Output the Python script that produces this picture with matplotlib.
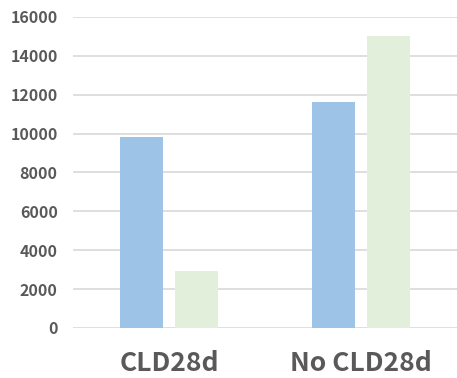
import matplotlib
matplotlib.use("Agg")
import matplotlib.pyplot as plt
import numpy as np

categories = ['CLD28d', 'No CLD28d']
series_a = [9850, 11620]
series_b = [2930, 15000]
yticks = [0, 2000, 4000, 6000, 8000, 10000, 12000, 14000, 16000]

plt.rcParams['font.family'] = ['Noto Sans CJK JP', 'DejaVu Sans']

fig = plt.figure(figsize=(4.57, 3.78), dpi=100)
ax = fig.add_axes([73/457, 50/378, 384/457, 311/378])

x = np.arange(len(categories))
w = 0.224
ax.bar(x - 0.143, series_a, w, color='#9DC3E6', zorder=3)
ax.bar(x + 0.143, series_b, w, color='#E2EFDA', zorder=3)

ax.set_xlim(-0.5, 1.5)
ax.set_ylim(0, 16000)
ax.set_yticks(yticks)
ax.set_yticklabels([str(v) for v in yticks], fontsize=11.5, fontweight='bold', color='#595959')
ax.set_xticks(x)
ax.set_xticklabels(categories, fontsize=19, fontweight='bold', color='#595959')
ax.tick_params(axis='both', length=0)
ax.tick_params(axis='y', pad=11)
ax.tick_params(axis='x', pad=16)
ax.grid(axis='y', color='#D9D9D9', linewidth=1.2, zorder=0)
for s in ax.spines.values():
    s.set_visible(False)

fig.savefig('out.png', dpi=100)
